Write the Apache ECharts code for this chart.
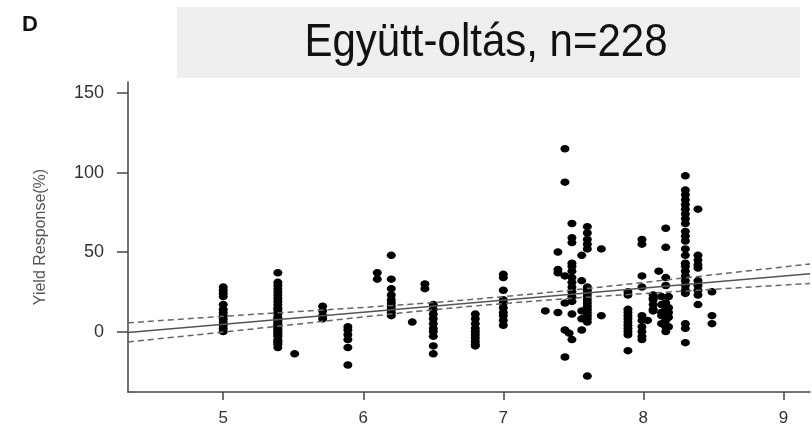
<!DOCTYPE html>
<html>
<head>
<meta charset="utf-8">
<script src="https://cdn.jsdelivr.net/npm/echarts@6/dist/echarts.min.js"></script>
<style>
html,body{margin:0;padding:0;background:#fff;}
#chart{width:812px;height:429px;}
</style>
</head>
<body>
<div id="chart"></div>
<script>
// ---- data ----
var panelLabel = 'D';
var titleText = 'Együtt-oltás, n=228';
var yAxisTitle = 'Yield Response(%)';
var xTicks = [5, 6, 7, 8, 9];
var yTicks = [0, 50, 100, 150];

// x position of each column of points
var colX = [5.0, 5.39, 5.51, 5.71, 5.89, 6.10, 6.20, 6.35, 6.44, 6.50, 6.80, 7.00, 7.30,
            7.39, 7.44, 7.47, 7.49, 7.56, 7.60, 7.70,
            7.89, 7.99, 8.03, 8.07, 8.11, 8.13, 8.16, 8.18, 8.30, 8.39, 8.49];
// y values (yield response, %) of the points in each column
var colY = [
  [28, 26, 24, 22, 17, 14, 12, 10, 8, 6, 4, 2, 0],
  [37, 31, 29, 27, 25, 23, 21, 19, 17, 15, 14, 12, 11, 9, 8, 7, 6, 5, 4, 3, 2, 1, 0, -1, -2, -3, -5, -6, -7, -8, -10],
  [-14],
  [16, 13, 10, 8],
  [3, 1, -2, -5, -10, -21],
  [37, 33],
  [48, 33, 27, 23, 20, 18, 16, 14, 12, 10],
  [6],
  [30, 27],
  [17, 14, 11, 8, 5, 2, 0, -3, -9, -14],
  [11, 8, 5, 2, 0, -2, -4, -6, -8, -9],
  [36, 34, 26, 20, 18, 15, 12, 10, 7, 4],
  [13],
  [50, 39, 37, 12],
  [115, 94, 35, 18, 1, -16],
  [-1],
  [68, 59, 56, 43, 41, 38, 34, 31, 28, 25, 22, 19, 11, -5],
  [48, 32, 13, 8, 1],
  [66, 62, 58, 55, 52, 28, 26, 24, 22, 20, 18, 16, 14, 12, 10, 8, 6, -28],
  [52, 10],
  [25, 23, 14, 12, 10, 8, 6, 4, 2, 0, -2, -12],
  [58, 55, 35, 28, 10, 7, 3, 0, -3, -5],
  [7],
  [23, 21, 20, 17, 14, 13],
  [38],
  [22, 17, 12, 10, 5],
  [65, 53, 34, 29, 18, 14, 12, 7, 3, 0],
  [22, 15, 12, 9, 3],
  [98, 89, 86, 83, 80, 77, 74, 71, 68, 63, 60, 57, 52, 48, 43, 41, 38, 35, 32, 29, 26, 24, 5, 2, -7],
  [77, 48, 45, 42, 40, 32, 29, 26, 23, 17],
  [25, 10, 5]
];

// regression line and confidence band
var fitX = [4.32, 9.19];
var fitY = [-0.5, 36.4];
var bandX = [4.32, 5, 5.5, 6, 6.5, 7, 7.5, 8, 8.5, 9.19];
var bandUpper = [5.5, 9.6, 12.4, 15.2, 18.3, 22.0, 26.2, 30.9, 35.8, 42.5];
var bandLower = [-6.5, -0.3, 4.4, 9.2, 13.7, 17.6, 21.0, 23.9, 26.6, 30.3];

// ---- build ----
var points = [];
for (var i = 0; i < colX.length; i++) {
  for (var j = 0; j < colY[i].length; j++) points.push([colX[i], colY[i][j]]);
}
function pairs(xs, ys) { return xs.map(function (x, k) { return [x, ys[k]]; }); }

var FONT = "'Liberation Sans', Arial, sans-serif";
var chart = echarts.init(document.getElementById('chart'), null, {renderer: 'canvas'});
chart.setOption({
  animation: false,
  backgroundColor: '#fff',
  graphic: [
    {type: 'rect', shape: {x: 177, y: 7, width: 623, height: 71}, style: {fill: '#efefef'}, silent: true},
    {type: 'text', x: 486, y: 47, scaleY: 1.08, originY: 47, style: {text: titleText, font: '42px ' + FONT, fill: '#111', align: 'center', verticalAlign: 'middle'}},
    {type: 'text', x: 22, y: 25, style: {text: panelLabel, font: 'bold 22px ' + FONT, fill: '#111', align: 'left', verticalAlign: 'middle'}}
  ],
  grid: {left: 128, right: 2, top: 82, bottom: 37, containLabel: false},
  xAxis: {
    type: 'value', min: 4.32, max: 9.19,
    splitLine: {show: false},
    axisLine: {show: true, onZero: false, lineStyle: {color: '#444', width: 1.5}},
    axisTick: {show: true, inside: false, length: 8, customValues: xTicks, lineStyle: {color: '#444', width: 1.5}},
    axisLabel: {show: true, customValues: xTicks, margin: 18, color: '#333', fontSize: 17, fontFamily: FONT}
  },
  yAxis: {
    type: 'value', min: -38, max: 157,
    name: yAxisTitle, nameLocation: 'middle', nameRotate: 90, nameGap: 79,
    nameTextStyle: {color: '#555', fontSize: 16, fontFamily: FONT},
    splitLine: {show: false},
    axisLine: {show: true, onZero: false, lineStyle: {color: '#444', width: 1.5}},
    axisTick: {show: true, inside: false, length: 11, customValues: yTicks, lineStyle: {color: '#444', width: 1.5}},
    axisLabel: {show: true, customValues: yTicks, margin: 24, color: '#333', fontSize: 18, fontFamily: FONT}
  },
  series: [
    {type: 'line', data: pairs(bandX, bandUpper), symbol: 'none', smooth: true, lineStyle: {color: '#666', width: 1.5, type: [6, 4]}, z: 3},
    {type: 'line', data: pairs(bandX, bandLower), symbol: 'none', smooth: true, lineStyle: {color: '#666', width: 1.5, type: [6, 4]}, z: 3},
    {type: 'line', data: pairs(fitX, fitY), symbol: 'none', lineStyle: {color: '#555', width: 1.5}, z: 3},
    {type: 'scatter', data: points, symbol: 'circle', symbolSize: [9, 7.5], itemStyle: {color: '#000', opacity: 1}, z: 2}
  ]
});
</script>
</body>
</html>
